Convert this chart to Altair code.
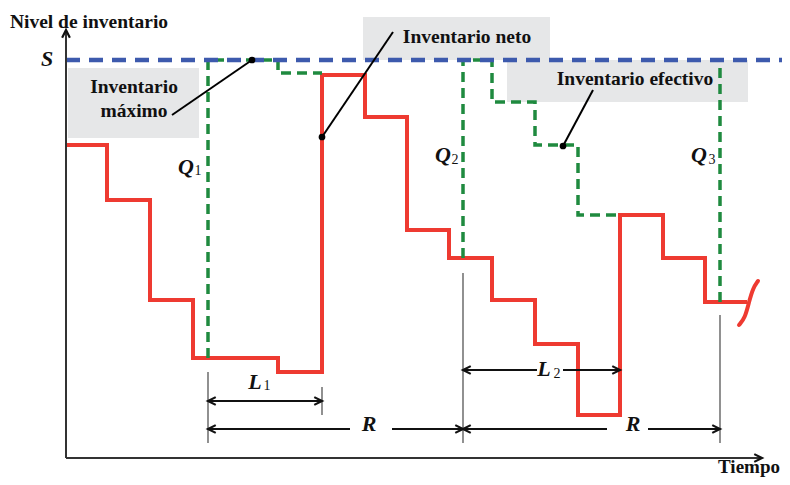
import altair as alt
import pandas as pd

# ---------------- data (time units, inventory units) ----------------
# Net inventory (red step line)
net_t = [1, 41, 41, 84, 84, 127, 127, 212, 212, 256, 256, 299, 299, 341, 341, 383, 383,
         426, 426, 469, 469, 512, 512, 554, 554, 597, 597, 639, 639, 681]
net_L = [313, 313, 258, 258, 158, 158, 100, 100, 86, 86, 383, 383, 341, 341, 228, 228, 200,
         200, 158, 158, 114, 114, 43, 43, 243, 243, 200, 200, 156, 156]
# break mark at the end of the red line
brk_t = [673, 679, 683, 687, 692]
brk_L = [133, 140, 156, 170, 177]

# Effective inventory (green dashed), three pieces
eff_seg = [1, 1, 1, 1, 1, 2, 2, 2, 2, 2, 2, 2, 2, 2, 3, 3]
eff_t = [142, 142, 212, 212, 256, 397, 397, 426, 426, 469, 469, 512, 512, 554, 654, 654]
eff_L = [100, 398, 398, 385, 385, 200, 398, 398, 356, 356, 313, 313, 243, 243, 156, 398]

# Maximum inventory S
S_level = 398
S_t = [0, 716]

# annotation boxes
box_t1 = [2, 297, 441]
box_t2 = [133, 484, 682]
box_L1 = [390, 441, 398]
box_L2 = [320, 398, 356]

# leader lines (from text to dot)
lead_t1 = [106, 327, 527]
lead_L1 = [343, 426, 368]
lead_t2 = [186, 256, 497]
lead_L2 = [398, 321, 312]

# axes
axis_t1 = [0, 0]
axis_t2 = [0, 696]
axis_L1 = [0, 0]
axis_L2 = [428, 0]

# thin reference ticks
tick_t = [142, 256, 397, 654]
tick_L1 = [86, 71, 185, 143]
tick_L2 = [15, 43, 15, 15]

# dimension lines
dim_t1 = [142, 142, 326, 397, 582, 397, 497]
dim_t2 = [256, 284, 397, 541, 654, 471, 554]
dim_L = [57, 29, 29, 29, 29, 88, 88]

# arrowheads: position and direction (deg)
head_t = [142, 256, 142, 397, 397, 654, 397, 554, 0, 696]
head_L = [57, 57, 29, 29, 29, 29, 88, 88, 428, 0]
head_a = [180, 0, 180, 0, 180, 0, 180, 0, 270, 0]

# texts
bold_txt = ["Nivel de inventario", "Inventario", "máximo", "Inventario neto",
            "Inventario efectivo"]
bold_t = [23, 68, 68, 401, 569]
bold_L = [436, 371, 347, 421, 379]

xlabel_txt = ["Tiempo"]
xlabel_t = [683]
xlabel_L = [-18.5]

ital_txt = ["S", "Q", "Q", "Q", "L", "L", "R", "R"]
ital_t = [-19, 120, 377, 633, 189, 478, 303, 567]
ital_L = [399, 291, 303, 303, 76, 89, 34, 34]

sub_txt = ["1", "2", "3", "1", "2"]
sub_t = [132, 389, 646, 201, 491]
sub_L = [287, 298, 298, 72, 84]

# ---------------- tables ----------------
net = pd.DataFrame({"t": net_t, "L": net_L, "o": range(len(net_t))})
brk = pd.DataFrame({"t": brk_t, "L": brk_L, "o": range(len(brk_t))})
eff = pd.DataFrame({"t": eff_t, "L": eff_L, "seg": eff_seg, "o": range(len(eff_t))})
sline = pd.DataFrame({"t": S_t, "L": [S_level] * 2})
boxes = pd.DataFrame({"t1": box_t1, "t2": box_t2, "L1": box_L1, "L2": box_L2})
leads = pd.DataFrame({"t1": lead_t1, "t2": lead_t2, "L1": lead_L1, "L2": lead_L2})
axes = pd.DataFrame({"t1": axis_t1, "t2": axis_t2, "L1": axis_L1, "L2": axis_L2})
ticks = pd.DataFrame({"t1": tick_t, "t2": tick_t, "L1": tick_L1, "L2": tick_L2})
dims = pd.DataFrame({"t1": dim_t1, "t2": dim_t2, "L1": dim_L, "L2": dim_L})
heads = pd.DataFrame({"t": head_t, "L": head_L, "a": head_a})
bold = pd.DataFrame({"t": bold_t, "L": bold_L, "txt": bold_txt})
xlab = pd.DataFrame({"t": xlabel_t, "L": xlabel_L, "txt": xlabel_txt})
ital = pd.DataFrame({"t": ital_t, "L": ital_L, "txt": ital_txt})
subs = pd.DataFrame({"t": sub_t, "L": sub_L, "txt": sub_txt})

W, H = 774, 469
xs = alt.Scale(domain=[-58, 716], nice=False, zero=False)
ys = alt.Scale(domain=[-19, 450], nice=False, zero=False)
X = lambda f: alt.X(f, type="quantitative", scale=xs, axis=None)
Y = lambda f: alt.Y(f, type="quantitative", scale=ys, axis=None)
X2 = lambda f: alt.X2(f)
Y2 = lambda f: alt.Y2(f)

FONT = "Liberation Serif"

box_layer = alt.Chart(boxes).mark_rect(color="#e6e7e8").encode(
    x=X("t1"), x2=X2("t2"), y=Y("L1"), y2=Y2("L2"))

red = alt.Chart(net).mark_line(color="#ee3a31", strokeWidth=4, strokeJoin="miter").encode(
    x=X("t"), y=Y("L"), order="o:Q")
red_brk = alt.Chart(brk).mark_line(color="#ee3a31", strokeWidth=4, interpolate="basis",
                                   strokeCap="round").encode(x=X("t"), y=Y("L"), order="o:Q")

green = alt.Chart(eff).mark_line(color="#1f8a3f", strokeWidth=3.5, strokeDash=[10, 6]).encode(
    x=X("t"), y=Y("L"), detail="seg:N", order="o:Q")

blue = alt.Chart(sline).mark_line(color="#3d5aad", strokeWidth=4.5, strokeDash=[14, 9]).encode(
    x=X("t"), y=Y("L"))

axis_layer = alt.Chart(axes).mark_rule(color="#333333", strokeWidth=2).encode(
    x=X("t1"), x2=X2("t2"), y=Y("L1"), y2=Y2("L2"))

tick_layer = alt.Chart(ticks).mark_rule(color="#555555", strokeWidth=1.3).encode(
    x=X("t1"), x2=X2("t2"), y=Y("L1"), y2=Y2("L2"))

dim_layer = alt.Chart(dims).mark_rule(color="#111111", strokeWidth=2).encode(
    x=X("t1"), x2=X2("t2"), y=Y("L1"), y2=Y2("L2"))

head_layer = alt.Chart(heads).mark_point(
    shape="M -2 -1 L 0 0 L -2 1", filled=False, size=60, strokeWidth=2.2,
    color="#111111", opacity=1).encode(
    x=X("t"), y=Y("L"), angle=alt.Angle("a:Q", scale=None))

lead_layer = alt.Chart(leads).mark_rule(color="#000000", strokeWidth=2).encode(
    x=X("t1"), x2=X2("t2"), y=Y("L1"), y2=Y2("L2"))
dot_layer = alt.Chart(leads).mark_circle(color="#000000", size=45, opacity=1).encode(
    x=X("t2"), y=Y("L2"))

bold_layer = alt.Chart(bold).mark_text(font=FONT, fontWeight="bold", fontSize=19.5,
                                       color="#111111", align="center", baseline="middle").encode(
    x=X("t"), y=Y("L"), text="txt:N")
xlab_layer = alt.Chart(xlab).mark_text(font=FONT, fontWeight="bold", fontSize=19,
                                       color="#111111", align="center", baseline="bottom").encode(
    x=X("t"), y=Y("L"), text="txt:N")
ital_layer = alt.Chart(ital).mark_text(font=FONT, fontWeight="bold", fontStyle="italic",
                                       fontSize=22, color="#111111", align="center",
                                       baseline="middle").encode(
    x=X("t"), y=Y("L"), text="txt:N")
sub_layer = alt.Chart(subs).mark_text(font=FONT, fontSize=14, color="#111111", align="center",
                                      baseline="middle").encode(
    x=X("t"), y=Y("L"), text="txt:N")

chart = alt.layer(
    box_layer, red, red_brk, green, blue, axis_layer, tick_layer, dim_layer, head_layer,
    lead_layer, dot_layer, bold_layer, xlab_layer, ital_layer, sub_layer
).properties(
    width=W, height=H, padding=0, background="white",
    autosize=alt.AutoSizeParams(type="none")
).configure_view(stroke=None)

chart.save("out.html", embed_options={"renderer": "svg", "actions": False})
